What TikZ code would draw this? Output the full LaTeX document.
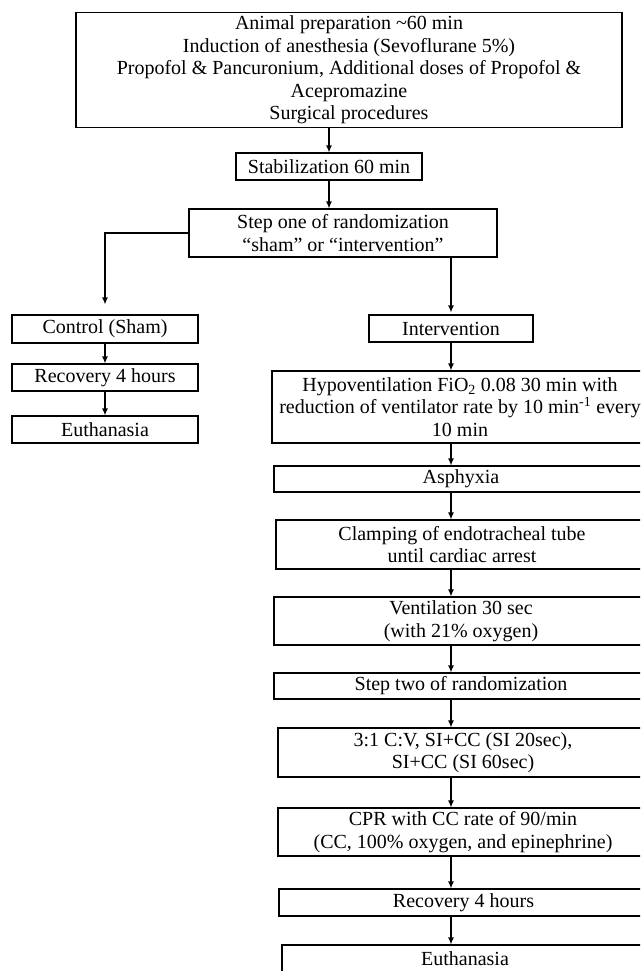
\documentclass[tikz,border=0pt]{standalone}
\usepackage{fontspec}
\setmainfont{Liberation Serif}
\usetikzlibrary{arrows.meta}
\tikzset{
  box/.style={draw, line width=1.2pt, inner sep=0pt, align=center,
    font=\fontsize{20}{22.5}\selectfont},
  arr/.style={-{Latex[length=7pt,width=6pt]}, line width=1.2pt},
}
\begin{document}
\begin{tikzpicture}[x=1pt,y=-1pt]
\useasboundingbox (0,0) rectangle (640,971);
\clip (0,0) rectangle (640,971);
% top part
\node[box, minimum width=546pt, minimum height=115pt] (top) at (349,70)
  {Animal preparation \textasciitilde60 min\\
   Induction of anesthesia (Sevoflurane 5\%)\\
   Propofol \& Pancuronium, Additional doses of Propofol \&\\
   Acepromazine\\
   Surgical procedures};
\node[box, minimum width=186pt, minimum height=27pt] (stab) at (329,166.5) {Stabilization 60 min};
\node[box, minimum width=308pt, minimum height=48pt] (step1) at (343,233)
  {Step one of randomization\\ “sham” or “intervention”};
% left branch
\node[box, minimum width=186pt, minimum height=28pt] (ctrl) at (105,329) {Control (Sham)};
\node[box, minimum width=186pt, minimum height=27pt] (rec1) at (105,377.5) {Recovery 4 hours};
\node[box, minimum width=186pt, minimum height=27pt] (eut1) at (105,429.5) {Euthanasia};
% right branch
\node[box, minimum width=164pt, minimum height=27pt] (inter) at (451,328.5) {Intervention};
\node[box, minimum width=376pt, minimum height=72pt] (hypo) at (460,407)
  {Hypoventilation FiO\textsubscript{2} 0.08 30 min with\\
   reduction of ventilator rate by 10 min\textsuperscript{-1} every\\
   10 min};
\node[box, minimum width=374pt, minimum height=26pt] (asph) at (461,479) {Asphyxia};
\node[box, minimum width=372pt, minimum height=49pt] (clamp) at (462,544.5)
  {Clamping of endotracheal tube\\ until cardiac arrest};
\node[box, minimum width=374pt, minimum height=48pt] (vent) at (461,621)
  {Ventilation 30 sec\\ (with 21\% oxygen)};
\node[box, minimum width=374pt, minimum height=26pt] (step2) at (461,686) {Step two of randomization};
\node[box, minimum width=370pt, minimum height=49pt] (cv) at (463,752.5)
  {3:1 C:V, SI+CC (SI 20sec),\\ SI+CC (SI 60sec)};
\node[box, minimum width=370pt, minimum height=48pt] (cpr) at (463,832)
  {CPR with CC rate of 90/min\\ (CC, 100\% oxygen, and epinephrine)};
\node[box, minimum width=369pt, minimum height=27pt] (rec2) at (463.5,902.5) {Recovery 4 hours};
\node[box, minimum width=366pt, minimum height=27pt] (eut2) at (465,958.5) {Euthanasia};
% connectors
\coordinate (ax) at (451,0);
\draw[arr] (stab.north |- top.south) -- (stab.north);
\draw[arr] (stab.south) -- (stab.south |- step1.north);
\draw[arr] (step1.west) -| ([yshift=10pt]ctrl.north);
\draw[arr] (ax |- step1.south) -- ([yshift=2pt]inter.north);
\draw[arr] (ctrl.south) -- (rec1.north);
\draw[arr] (rec1.south) -- (eut1.north);
\draw[arr] (inter.south) -- (ax |- hypo.north);
\draw[arr] (ax |- hypo.south) -- (ax |- asph.north);
\draw[arr] (ax |- asph.south) -- (ax |- clamp.north);
\draw[arr] (ax |- clamp.south) -- (ax |- vent.north);
\draw[arr] (ax |- vent.south) -- (ax |- step2.north);
\draw[arr] (ax |- step2.south) -- (ax |- cv.north);
\draw[arr] (ax |- cv.south) -- (ax |- cpr.north);
\draw[arr] (ax |- cpr.south) -- (ax |- rec2.north);
\draw[arr] (ax |- rec2.south) -- (ax |- eut2.north);
\end{tikzpicture}
\end{document}
